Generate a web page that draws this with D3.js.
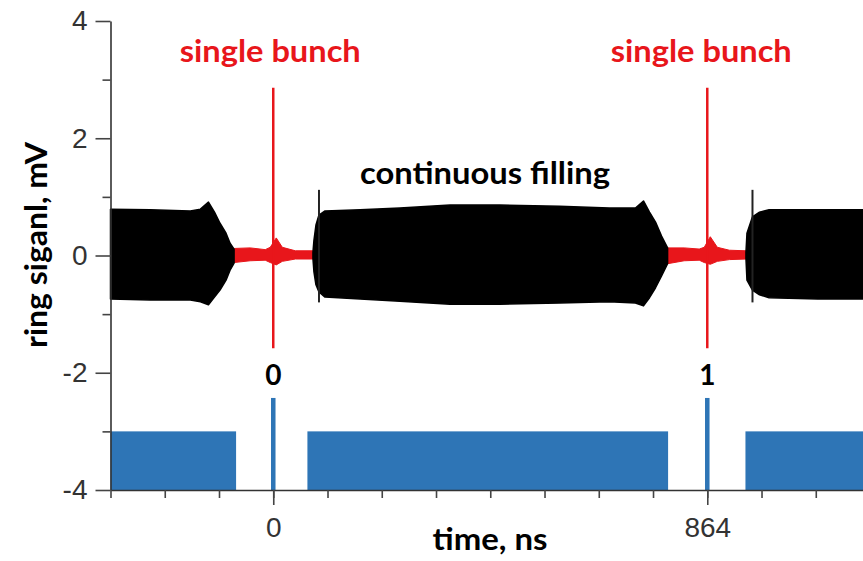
<!DOCTYPE html>
<html>
<head>
<meta charset="utf-8">
<script src="https://cdn.jsdelivr.net/npm/d3@7"></script>
<style>
  body { margin: 0; background: #fff; }
  .chart { width: 863px; height: 561px; }
</style>
</head>
<body>
<div class="chart"></div>
<script>
// ring signal envelope while bunches are filled: [time ns, upper mV, lower mV]
var trainA = [
  [-324, 0.79, -0.74], [-245, 0.78, -0.76], [-165, 0.76, -0.76], [-145, 0.79, -0.79],
  [-129, 0.91, -0.84], [-117, 0.74, -0.71], [-106, 0.55, -0.59], [-94, 0.38, -0.42],
  [-86, 0.21, -0.25], [-78, 0.11, -0.13]
];
var trainB = [
  [79, 0.05, -0.05], [81, 0.26, -0.28], [85, 0.52, -0.50], [91, 0.69, -0.62],
  [103, 0.76, -0.71], [173, 0.78, -0.74], [252, 0.81, -0.78], [352, 0.86, -0.83],
  [451, 0.86, -0.83], [570, 0.84, -0.81], [669, 0.81, -0.79], [721, 0.81, -0.81],
  [737, 0.93, -0.86], [749, 0.74, -0.72], [761, 0.57, -0.55], [773, 0.33, -0.35],
  [785, 0.13, -0.14]
];
var trainC = [
  [941, 0.05, -0.05], [943, 0.38, -0.42], [954, 0.66, -0.59], [968, 0.74, -0.67],
  [987, 0.78, -0.72], [1084, 0.78, -0.74], [1174, 0.78, -0.74]
];
// ring signal around the single bunches (red)
var gapA = [
  [-78, 0.12, -0.12], [-46, 0.13, -0.09], [-16, 0.10, -0.08], [-6, 0.14, -0.12],
  [6, 0.30, -0.16], [18, 0.14, -0.10], [44, 0.08, -0.06], [81, 0.08, -0.06]
];
var gapB = [
  [785, 0.13, -0.14], [818, 0.13, -0.09], [848, 0.11, -0.08], [858, 0.14, -0.12],
  [870, 0.32, -0.15], [884, 0.14, -0.10], [908, 0.09, -0.07], [942, 0.08, -0.06]
];
var bunchTimes = [0, 864];
var spikeRange = [-1.58, 2.86];
var markerTimes = [91, 954];
var markerRange = [-0.8, 1.12];

// filling pattern drawn under the trace
var fillBars = [[-324, -74], [68, 786], [940, 1174]];
var bunchBars = [[-4.5, 4.5], [859.5, 868.5]];
var fillTop = -3, bunchTop = -2.43, barBase = -4;

var xMinorTicks = d3.range(-324, 1081, 108);
var xMajorTicks = [0, 864];
var yMinorTicks = [-3, -1, 1, 3];
var yMajorTicks = [-4, -2, 0, 2, 4];

var bunchLabels = ["single bunch", "single bunch"];
var bunchNumbers = ["0", "1"];
var trainLabel = "continuous filling";
var xTitle = "time, ns";
var yTitle = "ring siganl, mV";

var margin = {top: 21, right: 0, bottom: 71, left: 110.5},
    W = 863, H = 561,
    red = "#e8161b", blue = "#2e75b6",
    boldFont = "Lato, 'Open Sans', sans-serif",
    tickFont = "'Liberation Sans', Arial, sans-serif";

var svg = d3.select(".chart").append("svg")
  .attr("width", W)
  .attr("height", H);

var x = d3.scaleLinear().domain([-324, 1174]).range([margin.left, W - margin.right]);
var y = d3.scaleLinear().domain([-4, 4]).range([H - margin.bottom, margin.top]);

// blue filling bars
svg.append("g").selectAll("rect.fill")
  .data(fillBars)
  .enter().append("rect")
  .attr("x", _d => x(_d[0]))
  .attr("width", _d => x(_d[1]) - x(_d[0]))
  .attr("y", y(fillTop))
  .attr("height", y(barBase) - y(fillTop))
  .attr("fill", blue);

svg.append("g").selectAll("rect.bunch")
  .data(bunchBars)
  .enter().append("rect")
  .attr("x", _d => x(_d[0]))
  .attr("width", _d => x(_d[1]) - x(_d[0]))
  .attr("y", y(bunchTop))
  .attr("height", y(barBase) - y(bunchTop))
  .attr("fill", blue);

var area = d3.area()
  .x(_d => x(_d[0]))
  .y0(_d => y(_d[2]))
  .y1(_d => y(_d[1]));

// red trace around single bunches
svg.append("g").selectAll("path")
  .data([gapA, gapB])
  .enter().append("path")
  .attr("d", area)
  .attr("fill", red)
  .attr("stroke", red)
  .attr("stroke-width", 1);

svg.append("g").selectAll("line")
  .data(bunchTimes)
  .enter().append("line")
  .attr("x1", _d => x(_d)).attr("x2", _d => x(_d))
  .attr("y1", y(spikeRange[1])).attr("y2", y(spikeRange[0]))
  .attr("stroke", red)
  .attr("stroke-width", 2.5);

// black trace of the bunch trains
svg.append("g").selectAll("path")
  .data([trainA, trainB, trainC])
  .enter().append("path")
  .attr("d", area)
  .attr("fill", "#000")
  .attr("stroke", "#000")
  .attr("stroke-width", 1.5)
  .attr("stroke-linejoin", "round");

svg.append("g").selectAll("line")
  .data(markerTimes)
  .enter().append("line")
  .attr("x1", _d => x(_d)).attr("x2", _d => x(_d))
  .attr("y1", y(markerRange[1])).attr("y2", y(markerRange[0]))
  .attr("stroke", "#222")
  .attr("stroke-width", 2);

// axes
function styleAxis(g) {
  g.selectAll("path.domain").attr("stroke", "#333").attr("stroke-width", 1.6);
  g.selectAll(".tick line").attr("stroke", "#444").attr("stroke-width", 1.6);
  g.selectAll(".tick text")
    .attr("fill", "#333")
    .style("font-family", tickFont)
    .style("font-size", "28px");
}

svg.append("g")
  .attr("transform", `translate(${margin.left},0)`)
  .call(d3.axisLeft(y).tickValues(yMinorTicks).tickSize(8).tickFormat("").tickSizeOuter(0))
  .call(styleAxis);

svg.append("g")
  .attr("transform", `translate(${margin.left},0)`)
  .call(d3.axisLeft(y).tickValues(yMajorTicks).tickSize(15).tickPadding(8)
    .tickFormat(_d => String(_d)).tickSizeOuter(0))
  .call(styleAxis)
  .call(g => g.select("path.domain").remove());

svg.append("g")
  .attr("transform", `translate(0,${y(-4)})`)
  .call(d3.axisBottom(x).tickValues(xMinorTicks).tickSize(8).tickFormat("").tickSizeOuter(0))
  .call(styleAxis);

svg.append("g")
  .attr("transform", `translate(0,${y(-4)})`)
  .call(d3.axisBottom(x).tickValues(xMajorTicks).tickSize(15).tickPadding(12)
    .tickFormat(_d => String(_d)).tickSizeOuter(0))
  .call(styleAxis)
  .call(g => g.select("path.domain").remove());

// annotations
svg.append("g").selectAll("text")
  .data(bunchLabels)
  .enter().append("text")
  .attr("x", (_d, i) => x(bunchTimes[i]) + [-3, -6][i])
  .attr("y", 62)
  .attr("text-anchor", "middle")
  .attr("textLength", 181)
  .attr("lengthAdjust", "spacingAndGlyphs")
  .style("font-family", boldFont)
  .style("font-weight", "bold")
  .style("font-size", "31px")
  .attr("fill", red)
  .text(_d => _d);

svg.append("g").selectAll("text")
  .data(bunchNumbers)
  .enter().append("text")
  .attr("x", (_d, i) => x(bunchTimes[i]))
  .attr("y", 385)
  .attr("text-anchor", "middle")
  .style("font-family", boldFont)
  .style("font-weight", "bold")
  .style("font-size", "28px")
  .attr("fill", "#000")
  .text(_d => _d);

svg.append("text")
  .attr("x", 485)
  .attr("y", 184)
  .attr("text-anchor", "middle")
  .attr("textLength", 250)
  .attr("lengthAdjust", "spacingAndGlyphs")
  .style("font-family", boldFont)
  .style("font-weight", "bold")
  .style("font-size", "31px")
  .text(trainLabel);

svg.append("text")
  .attr("x", 490)
  .attr("y", 550)
  .attr("text-anchor", "middle")
  .attr("textLength", 115)
  .attr("lengthAdjust", "spacingAndGlyphs")
  .style("font-family", boldFont)
  .style("font-weight", "bold")
  .style("font-size", "31px")
  .text(xTitle);

svg.append("text")
  .attr("transform", "translate(47,245) rotate(-90)")
  .attr("text-anchor", "middle")
  .attr("textLength", 206)
  .attr("lengthAdjust", "spacingAndGlyphs")
  .style("font-family", boldFont)
  .style("font-weight", "bold")
  .style("font-size", "31px")
  .text(yTitle);
</script>
</body>
</html>
